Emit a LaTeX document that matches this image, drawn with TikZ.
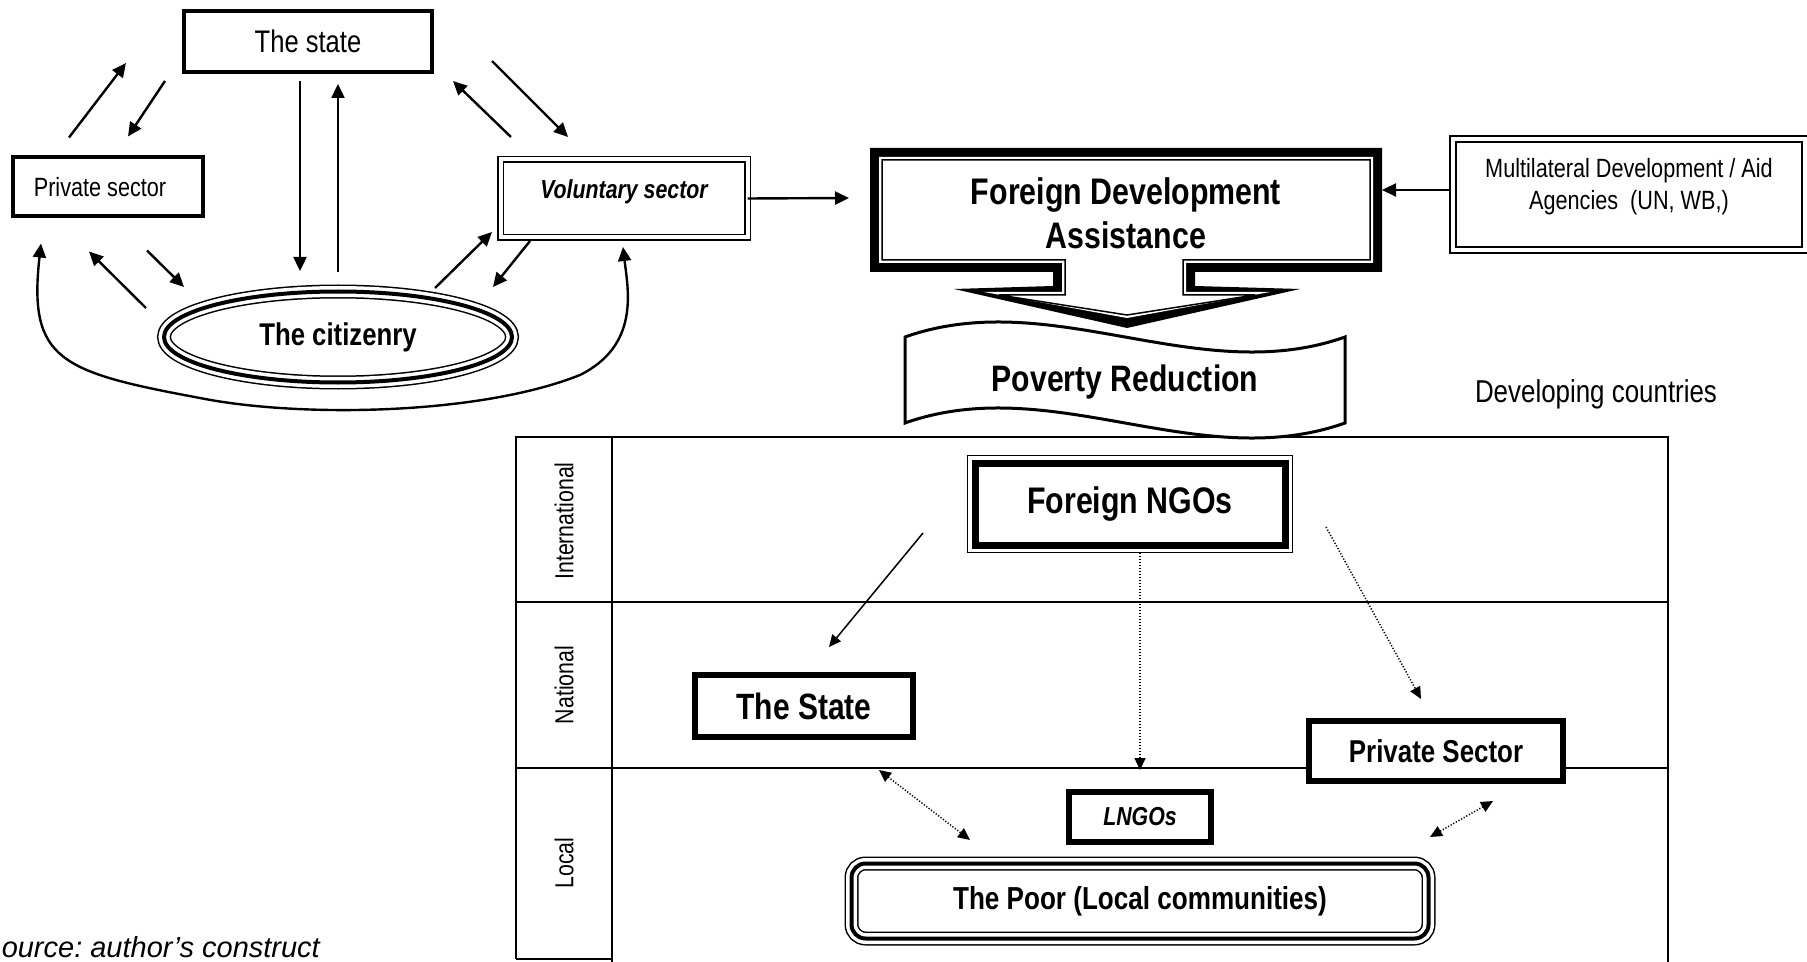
\documentclass[tikz,border=0pt]{standalone}
\usepackage{fontspec}
\setmainfont{Liberation Sans}[FakeStretch=0.82]
\newfontfamily\widesans{Liberation Sans}
\usetikzlibrary{arrows.meta,calc,shapes.geometric}
\newcommand{\fsz}[2]{\fontsize{#1}{#2}\selectfont}

\tikzset{every picture/.style={line width=0.75pt},
  statebox/.style={draw, line width=2pt, inner sep=0pt, outer sep=0pt},
  dblbox/.style={draw, double, line width=0.85pt, double distance=2pt, inner sep=0pt, outer sep=0pt},
  heavybox/.style={draw, line width=3pt, fill=white, inner sep=0pt, outer sep=0pt},
  triplebox/.style={preaction={draw, line width=7pt}, preaction={draw=white, line width=5.5pt}, draw, line width=2pt, inner sep=0pt, outer sep=0pt},
  arr/.style={line width=1.2pt, -{Triangle[length=7pt,width=6.5pt]}},
  arrboth/.style={line width=1.2pt, {Triangle[length=7pt,width=6.5pt]}-{Triangle[length=7pt,width=6.5pt]}},
  thinarr/.style={line width=0.75pt, -{Triangle[length=6pt,width=5.5pt]}},
  dotarr/.style={thinarr, dash pattern=on 0.6pt off 0.9pt},
  dotboth/.style={line width=0.75pt, dash pattern=on 0.6pt off 0.9pt, {Triangle[length=6pt,width=5.5pt]}-{Triangle[length=6pt,width=5.5pt]}},
  gridline/.style={line width=0.8pt}
}

\begin{document}
\begin{tikzpicture}[x=0.5pt,y=0.5pt,yscale=-1,xscale=1]
\useasboundingbox (0,0) rectangle (1807,962);

% levels table
\draw[gridline] (516,959) -- (516,437) -- (1668,437) -- (1668,962);
\draw[gridline] (516,959) -- (612,959);
\draw[gridline] (612,437) -- (612,962);
\draw[gridline] (516,602) -- (1668,602);
\draw[gridline] (516,768) -- (1668,768);
\node[rotate=90, font=\fsz{13}{15}] (lintl) at (564,521) {International};
\node[rotate=90, font=\fsz{13}{15}] (lnat) at (564,685) {National};
\node[rotate=90, font=\fsz{13}{15}] (lloc) at (564,863) {Local};

% top left: sectors
\node[statebox, minimum width=124pt, minimum height=30.5pt, font=\fsz{15.6}{18}] (state) at (308,41.5) {The state};
\node[statebox, minimum width=95pt, minimum height=29.5pt, font=\fsz{13.2}{16}] (priv) at (108,187) {Private sector\kern8pt};
\node[dblbox, minimum width=123.5pt, minimum height=39pt, text height=9.5pt, text depth=9.5pt, font=\bfseries\itshape\fsz{13}{15}] (vol) at (624,198.5) {Voluntary sector};
\node[ellipse, triplebox, minimum width=174pt, minimum height=45.5pt, font=\bfseries\fsz{15.7}{18}] (cit) at (338,337) {The citizenry};

\draw[arr] ($(priv.north)+(-39,-20)$) -- ($(state.south west)+(-58,-9)$);
\draw[arr] ($(state.south west)+(-19,9)$) -- ($(priv.north)+(20,-21)$);
\draw[arr] ($(state.south)+(-8,9)$) -- ($(cit.north)+(-38,-20.5)$);
\draw[arr] ($(cit.north)+(0,-19.5)$) -- ($(state.south)+(30,12)$);
\draw[arr] ($(vol.north)+(-113,-22.5)$) -- ($(state.south east)+(21,9)$);
\draw[arr] ($(state.east)+(60,19.5)$) -- ($(vol.north)+(-56,-22.5)$);
\draw[arr] ($(cit.west)+(-18,-29)$) -- ($(priv.south)+(-19,35)$);
\draw[arr] ($(priv.south)+(39,34)$) -- ($(cit.west)+(20,-50)$);
\draw[arr] ($(cit.north)+(97,-3.5)$) -- ($(vol.south west)+(-8.5,-5.5)$);
\draw[arr] ($(vol.south west)+(29.5,3.5)$) -- ($(cit.north)+(155,-4.5)$);
\draw[arrboth] ($(priv.south west)+(28,27)$) .. controls (28,360) and (60,372) .. (200,398)
  .. controls (300,418) and (480,415) .. (580,375)
  .. controls (640,345) and (628,290) .. ($(vol.south)+(-1,9.5)$);

% foreign development assistance callout
\fill (870,148) -- (1382,148) -- (1382,272) -- (1195,272) -- (1195,286) -- (1300,289) -- (1127,328)
  -- (954,289) -- (1053,286) -- (1053,272) -- (870,272) -- cycle;
\fill[white] (879,157) -- (1373,157) -- (1373,263) -- (1186,263) -- (1186,292) -- (1270,292) -- (1127,318)
  -- (984,292) -- (1062,292) -- (1062,263) -- (879,263) -- cycle;
\draw[line width=0.75pt] (882,160) -- (1370,160) -- (1370,260) -- (1183,260) -- (1183,295) -- (1255,295)
  -- (1127,315) -- (999,295) -- (1065,295) -- (1065,260) -- (882,260) -- cycle;
\node[minimum width=252pt, minimum height=58pt, inner sep=0pt, outer sep=0pt, align=center, font=\bfseries\fsz{18.5}{22}] (fda) at (1126,213) {Foreign Development\\Assistance};

\node[dblbox, minimum width=176pt, minimum height=55.5pt] (mla) at (1629,194.5) {};
\node[align=center, font=\fsz{13.2}{16}] (mlatxt) at (1629,187) {Multilateral Development / Aid\\Agencies\ \ (UN, WB,)};

\draw[arr] (vol.east) -- ($(fda.west)+(-25,-15)$);
\draw[arr] ($(mla.west)+(-4,-4.5)$) -- ($(fda.east)+(4,-23)$);

% poverty reduction banner
\draw[line width=1.5pt, fill=white] (905,337) .. controls (1052,285) and (1198,389) .. (1345,337)
  -- (1345,423) .. controls (1198,475) and (1052,371) .. (905,423) -- cycle;
\node[font=\bfseries\fsz{18.4}{22}] (pov) at (1125,382) {Poverty Reduction};
\node[font=\fsz{15.8}{18}] (dev) at (1596,394) {Developing countries};

% actors by level
\node[draw, line width=0.75pt, fill=white, minimum width=162.5pt, minimum height=48.5pt, inner sep=0pt, outer sep=0pt, font=\bfseries\fsz{18.5}{22}] (fngo) at (1130,504) {Foreign NGOs};
\draw[line width=3.5pt] ($(fngo.north west)+(7.5,7.5)$) rectangle ($(fngo.south east)+(-7.5,-7.5)$);
\node[heavybox, minimum width=109pt, minimum height=31pt, font=\bfseries\fsz{18.3}{22}] (nstate) at (804,706) {The State};
\node[heavybox, minimum width=127pt, minimum height=30pt, font=\bfseries\fsz{15.8}{18}] (privs) at (1436,751) {Private Sector};
\node[heavybox, minimum width=71pt, minimum height=25pt, font=\bfseries\itshape\fsz{13}{15}] (lngo) at (1140,817) {LNGOs};
\node[triplebox, rounded corners=7pt, minimum width=288.5pt, minimum height=37.5pt, font=\bfseries\fsz{15.9}{18}] (poor) at (1140,901) {The Poor (Local communities)};

\draw[thinarr] ($(fngo.south west)+(-44.5,-19.5)$) -- ($(nstate.north)+(25,-28)$);
\draw[dotarr] (fngo.south -| lngo.north) -- ($(lngo.north)+(0,-22)$);
\draw[dotarr] ($(fngo.east)+(33.5,23)$) -- ($(privs.north)+(-15,-22)$);
\draw[dotboth] ($(nstate.south east)+(-34,33)$) -- ($(poor.north west)+(118.5,-23.5)$);
\draw[dotboth] ($(privs.south)+(57,20)$) -- ($(poor.north east)+(1.5,-26.5)$);

\node[anchor=base west, inner xsep=0pt, font=\widesans\itshape\fsz{14.5}{17}] (src) at (1,957) {ource:\ author’s construct};

\end{tikzpicture}
\end{document}
